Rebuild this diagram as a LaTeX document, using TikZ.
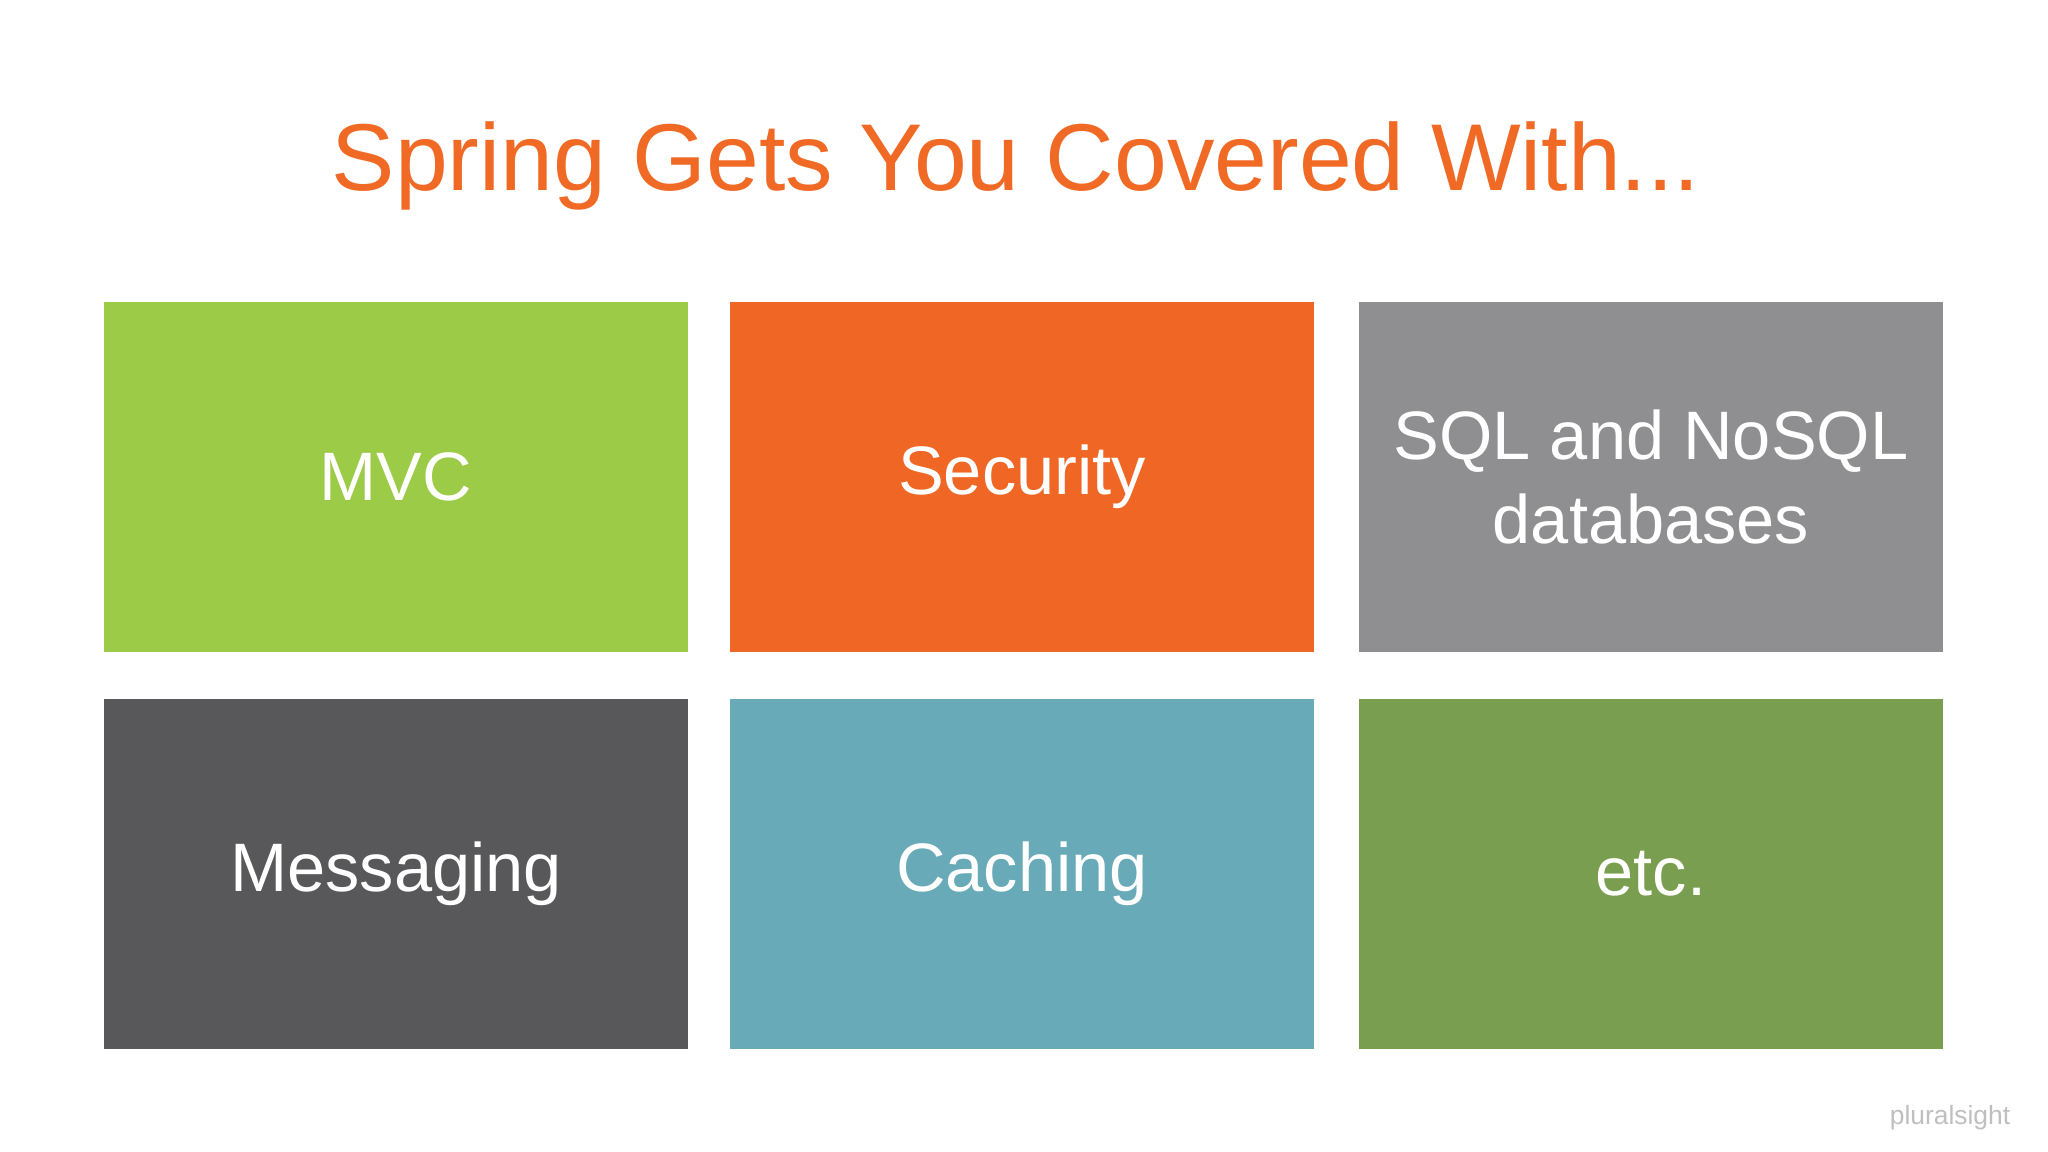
\documentclass[tikz,border=0pt]{standalone}
\usepackage{fontspec}
\setmainfont{Liberation Sans}
\definecolor{mvcgreen}{HTML}{9BCB47}
\definecolor{secorange}{HTML}{EF6625}
\definecolor{dbgray}{HTML}{8F8E90}
\definecolor{msgdark}{HTML}{58585A}
\definecolor{cacheteal}{HTML}{69AAB9}
\definecolor{etcolive}{HTML}{7A9E4F}
\definecolor{titleorange}{HTML}{F06A25}

\begin{document}
\begin{tikzpicture}[x=0.01cm, y=-0.01cm,
  tile/.style={minimum width=5.83cm, minimum height=3.5cm, inner sep=0pt,
    text=white, align=center, font=\fontsize{19.5}{24}\selectfont}]
  % canvas
  \fill[white] (0,0) rectangle (2048,1152);
  \useasboundingbox (0,0) rectangle (2048,1152);

  % heading
  \node[text=titleorange, font=\fontsize{27}{32}\selectfont] (title) at (1016,166) {Spring Gets You Covered With...};

  % top row
  \node[tile, fill=mvcgreen] (mvc) at (396,477) {\raisebox{-4pt}{MVC}};
  \node[tile, fill=secorange] (security) at (1022,477) {\raisebox{-4pt}{Security}};
  \node[tile, fill=dbgray] (db) at (1651,477) {SQL and NoSQL\\databases};

  % bottom row
  \node[tile, fill=msgdark] (messaging) at (396,874) {\raisebox{-4pt}{Messaging}};
  \node[tile, fill=cacheteal] (caching) at (1022,874) {\raisebox{-4pt}{Caching}};
  \node[tile, fill=etcolive] (etc) at (1651,874) {\raisebox{-2pt}{etc.}};

  % watermark
  \node[text=gray!50, font=\fontsize{7.5}{9}\selectfont] (logo) at (1950,1118) {pluralsight};
\end{tikzpicture}
\end{document}
